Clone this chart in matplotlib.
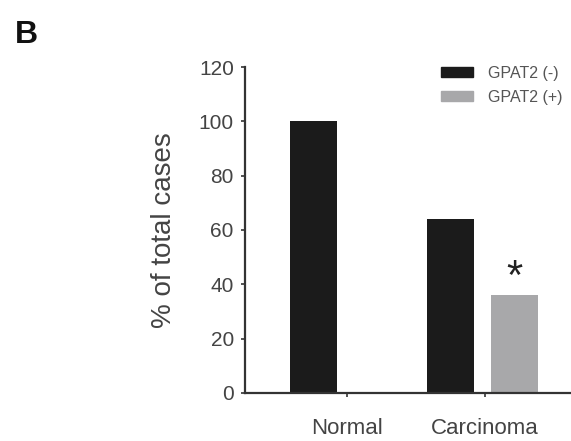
import matplotlib
matplotlib.use("Agg")
import matplotlib.pyplot as plt
import numpy as np
from matplotlib.patches import Patch

plt.rcParams['font.family'] = ['Liberation Sans', 'DejaVu Sans']

categories = ["Normal", "Carcinoma"]
gpat2_neg = [100, 64]
gpat2_pos = [0, 36]
series_labels = ["GPAT2 (-)", "GPAT2 (+)"]
y_ticks = [0, 20, 40, 60, 80, 100, 120]

fig = plt.figure(figsize=(5.71, 4.41), dpi=100)
ax = fig.add_axes([0.429, 0.109, 0.569, 0.739])

x = np.arange(len(categories))
width = 0.34
ax.bar(x - 0.245, gpat2_neg, width, color="#1b1b1b", label=series_labels[0])
ax.bar(x + 0.215, gpat2_pos, width, color="#a8a8aa", label=series_labels[1])

# significance marker above the positive carcinoma bar
ax.text(x[1] + 0.215, gpat2_pos[1] - 1.0, "*", ha="center", va="bottom",
        fontsize=30, color="#222222")

ax.set_xlim(-0.74, 1.62)
ax.set_ylim(0, 120)
ax.set_yticks(y_ticks)
ax.set_xticks(x)
ax.set_xticklabels(categories)
ax.tick_params(axis="y", labelsize=15, length=3, width=1.2, pad=5, colors="#333333",
               labelcolor="#444444")
ax.tick_params(axis="x", labelsize=16, length=3, width=1.2, pad=15, colors="#333333",
               labelcolor="#444444")
ax.set_ylabel("% of total cases", fontsize=20, color="#444444", labelpad=16)

for side in ("top", "right"):
    ax.spines[side].set_visible(False)
for side in ("left", "bottom"):
    ax.spines[side].set_linewidth(1.6)
    ax.spines[side].set_color("#333333")

handles = [Patch(color="#1b1b1b"), Patch(color="#a8a8aa")]
ax.legend(handles, series_labels, loc="upper left", bbox_to_anchor=(0.565, 1.043),
          frameon=False, fontsize=11.5, handlelength=2.0, handleheight=0.6,
          labelspacing=0.55, handletextpad=0.9, labelcolor="#555555",
          borderpad=0.3)

fig.text(0.026, 0.902, "B", fontsize=23, fontweight="bold", color="#111111")

fig.savefig("out.png", dpi=100)
